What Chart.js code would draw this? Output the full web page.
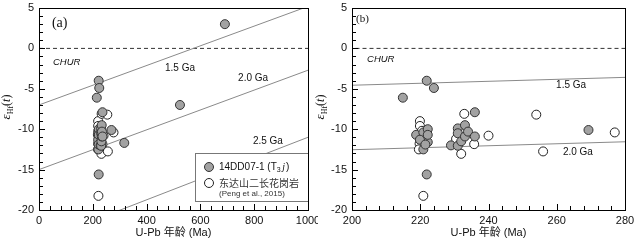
<!DOCTYPE html>
<html>
<head>
<meta charset="utf-8">
<script src="https://cdn.jsdelivr.net/npm/chart.js@4.4.1/dist/chart.umd.min.js"></script>
<style>
  body { margin: 0; background: #fff; }
  #wrap { position: relative; width: 635px; height: 240px; }
  canvas { position: absolute; top: 0; }
  #chartA { left: 0; }
  #chartB { left: 310px; }
</style>
</head>
<body>
<div id="wrap">
  <canvas id="chartA" width="318" height="240"></canvas>
  <canvas id="chartB" width="325" height="240"></canvas>
</div>
<script>
"use strict";
// Zircon U-Pb age (Ma) and eHf(t)

// 14DD07-1 (T3j)
const sampleAges = [214.9, 221.9, 224.0, 236.0, 269.3, 221.9,
    218.8, 220.9, 222.2, 222.2, 220.9, 219.9, 222.2, 221.5,
    229.0, 231.0, 231.0, 231.0, 232.0, 233.1, 233.1, 234.0, 236.0,
    317, 524, 691];
const sampleHf = [-6.1, -4.0, -4.9, -7.9, -10.1, -15.6,
    -10.7, -10.4, -10.0, -11.6, -12.5, -11.3, -10.7, -11.9,
    -12.0, -9.9, -10.5, -12.05, -11.5, -9.5, -10.9, -10.3, -10.9,
    -11.7, -7.0, 3.0];

// Dongdashan monzogranite (Peng et al., 2015)
const pengAges = [219.9, 219.9, 220.5, 219.8, 219.6, 220.9,
    230.5, 232.9, 232.0, 235.8, 240.0, 254.0, 256.0, 277.0];
const pengHf = [-9.0, -9.6, -10.2, -11.8, -12.5, -18.25,
    -11.2, -8.1, -13.05, -11.85, -10.8, -8.2, -12.75, -10.4];

// crustal evolution lines and CHUR
const modelAges = [0, 1000];
const line15 = [-7.0, 5.2];
const line20 = [-15.0, -2.7];
const line25 = [-23.9, -11.0];
const churHf = [0, 0];

// tick labels
const xTicksA = [0, 200, 400, 600, 800, 1000];
const xTicksB = [200, 220, 240, 260, 280];
const yTicks = [-20, -15, -10, -5, 0, 5];

const toPts = (xs, ys) => xs.map((v, i) => ({x: v, y: ys[i]}));

const FONT = '"Liberation Sans", Arial, sans-serif';
const SERIF = '"Liberation Serif", "Times New Roman", serif';

function drawHfTitle(ctx, cx, cy) {
    const parts = [
        {t: 'ε', font: 'italic 13px ' + SERIF, dy: 0},
        {t: 'Hf', font: '8px ' + SERIF, dy: 3},
        {t: '(', font: '12px ' + SERIF, dy: 0},
        {t: 't', font: 'italic 12px ' + SERIF, dy: 0},
        {t: ')', font: '12px ' + SERIF, dy: 0}
    ];
    ctx.save();
    ctx.translate(cx, cy);
    ctx.rotate(-Math.PI / 2);
    let w = 0;
    parts.forEach(p => { ctx.font = p.font; p.w = ctx.measureText(p.t).width; w += p.w; });
    let xx = -w / 2;
    ctx.fillStyle = '#111';
    ctx.textBaseline = 'alphabetic';
    ctx.textAlign = 'left';
    parts.forEach(p => { ctx.font = p.font; ctx.fillText(p.t, xx, p.dy); xx += p.w; });
    ctx.restore();
}

function drawLegend(ctx, area, sets) {
    const w = 113, h = 48;
    const left = area.right - w, top = area.bottom - 9 - h;
    ctx.save();
    ctx.fillStyle = '#fff';
    ctx.fillRect(left, top, w, h);
    ctx.strokeStyle = '#777';
    ctx.lineWidth = 1;
    ctx.strokeRect(Math.round(left) + 0.5, Math.round(top) + 0.5, w, h);

    const cx = left + 14;
    const marks = [top + 14, top + 30];
    sets.forEach((ds, i) => {
        ctx.beginPath();
        ctx.arc(cx, marks[i], 4.5, 0, Math.PI * 2);
        ctx.fillStyle = ds.backgroundColor;
        ctx.fill();
        ctx.strokeStyle = ds.borderColor;
        ctx.stroke();
    });

    ctx.fillStyle = '#111';
    ctx.textBaseline = 'middle';
    ctx.textAlign = 'left';
    let tx = left + 24;
    ctx.font = '10px ' + FONT;
    ctx.fillText('14DD07-1 (T', tx, marks[0]);
    tx += ctx.measureText('14DD07-1 (T').width;
    ctx.font = '7px ' + FONT;
    ctx.fillText('3', tx, marks[0] + 3);
    tx += ctx.measureText('3').width + 1.5;
    ctx.font = 'italic 10px ' + SERIF;
    ctx.fillText('j', tx, marks[0]);
    tx += ctx.measureText('j').width + 1;
    ctx.font = '10px ' + FONT;
    ctx.fillText(')', tx, marks[0]);

    ctx.fillStyle = '#333';
    ctx.font = '10px "Noto Sans CJK SC", sans-serif';
    ctx.fillText('东达山二长花岗岩', left + 24, marks[1]);
    ctx.font = '8px ' + FONT;
    ctx.fillText('(Peng et al., 2015)', left + 24, marks[1] + 11);
    ctx.restore();
}

const panelDecor = {
    id: 'panelDecor',
    afterDatasetsDraw(chart, args, opts) {
        const {ctx, chartArea: a, scales: {x, y}} = chart;
        ctx.save();

        // text notes placed in data space
        opts.notes.forEach(n => {
            ctx.font = n.font;
            ctx.fillStyle = '#111';
            ctx.textAlign = n.align || 'center';
            ctx.textBaseline = 'middle';
            ctx.fillText(n.text, x.getPixelForValue(n.x), y.getPixelForValue(n.y));
        });

        if (opts.legend) {
            drawLegend(ctx, a, [chart.data.datasets[0], chart.data.datasets[1]]);
        }

        // inward ticks
        ctx.strokeStyle = '#000';
        ctx.lineWidth = 1;
        ctx.beginPath();
        const xStep = opts.xMajor / 5;
        for (let i = 0; x.min + i * xStep <= x.max + 1e-9; i++) {
            const px = Math.round(x.getPixelForValue(x.min + i * xStep)) + 0.5;
            const len = i % 5 === 0 ? 6 : 4;
            ctx.moveTo(px, a.bottom);
            ctx.lineTo(px, a.bottom - len);
        }
        for (let i = 0; y.min + i <= y.max + 1e-9; i++) {
            const py = Math.round(y.getPixelForValue(y.min + i)) + 0.5;
            const len = i % 5 === 0 ? 6 : 4;
            ctx.moveTo(a.left, py);
            ctx.lineTo(a.left + len, py);
        }
        ctx.stroke();

        // frame
        ctx.strokeRect(Math.round(a.left) + 0.5, Math.round(a.top) + 0.5,
            Math.round(a.right - a.left), Math.round(a.bottom - a.top));

        drawHfTitle(ctx, opts.titleX, (a.top + a.bottom) / 2 - 2);
        ctx.restore();
    }
};

function makeDatasets() {
    const lineStyle = {showLine: true, pointRadius: 0, borderColor: '#8a8a8a', borderWidth: 1, order: 3};
    return [
        {label: '14DD07-1', data: toPts(sampleAges, sampleHf), backgroundColor: '#a2a2a2',
            borderColor: '#333', borderWidth: 1, pointRadius: 4.5, order: 1},
        {label: 'Peng', data: toPts(pengAges, pengHf), backgroundColor: '#fff',
            borderColor: '#222', borderWidth: 1, pointRadius: 4.5, order: 2},
        Object.assign({data: toPts(modelAges, line15)}, lineStyle),
        Object.assign({data: toPts(modelAges, line20)}, lineStyle),
        Object.assign({data: toPts(modelAges, line25)}, lineStyle),
        {data: toPts(modelAges, churHf), showLine: true, pointRadius: 0, borderColor: '#333',
            borderWidth: 1, borderDash: [4, 3], order: 3}
    ];
}

function makeConfig(xTicks, yWidth, notes, titleX, legend) {
    const tickFont = {family: FONT, size: 11};
    return {
        type: 'scatter',
        data: {datasets: makeDatasets()},
        options: {
            responsive: false,
            animation: false,
            events: [],
            layout: {padding: {top: 8, right: 10, left: 0, bottom: 0}},
            plugins: {
                legend: {display: false},
                tooltip: {enabled: false},
                panelDecor: {notes: notes, titleX: titleX, legend: legend, xMajor: xTicks[1] - xTicks[0]}
            },
            scales: {
                x: {
                    type: 'linear',
                    min: xTicks[0],
                    max: xTicks[xTicks.length - 1],
                    grid: {display: false, drawTicks: false},
                    border: {display: false},
                    ticks: {stepSize: xTicks[1] - xTicks[0], font: tickFont, color: '#111', padding: 4,
                        maxRotation: 0, callback: v => String(v)},
                    title: {display: true, text: 'U-Pb 年龄 (Ma)', font: {family: FONT + ', "Noto Sans CJK SC"', size: 11},
                        color: '#111', padding: {top: 0, bottom: 0}},
                    afterFit(scale) {
                        scale.height = 30;
                        scale.paddingLeft = 0;
                        scale.paddingRight = 0;
                    }
                },
                y: {
                    type: 'linear',
                    min: yTicks[0],
                    max: yTicks[yTicks.length - 1],
                    grid: {display: false, drawTicks: false},
                    border: {display: false},
                    ticks: {stepSize: yTicks[1] - yTicks[0], font: tickFont, color: '#111', padding: 5,
                        callback: v => String(v)},
                    afterFit(scale) {
                        scale.width = yWidth;
                        scale.paddingTop = 0;
                        scale.paddingBottom = 0;
                    }
                }
            }
        },
        plugins: [panelDecor]
    };
}

const notesA = [
    {text: '(a)', x: 48, y: 3.1, font: '14px ' + SERIF, align: 'left'},
    {text: 'CHUR', x: 52, y: -1.7, font: 'italic 9.5px ' + FONT, align: 'left'},
    {text: '1.5 Ga', x: 524, y: -2.4, font: '10px ' + FONT},
    {text: '2.0 Ga', x: 796, y: -3.7, font: '10px ' + FONT},
    {text: '2.5 Ga', x: 851, y: -11.5, font: '10px ' + FONT}
];
const notesB = [
    {text: '(b)', x: 201.2, y: 3.6, font: '11px ' + SERIF, align: 'left'},
    {text: 'CHUR', x: 204.4, y: -1.3, font: 'italic 9.5px ' + FONT, align: 'left'},
    {text: '1.5 Ga', x: 264.2, y: -4.6, font: '10px ' + FONT},
    {text: '2.0 Ga', x: 266.2, y: -12.8, font: '10px ' + FONT}
];

const chartA = new Chart(
    document.getElementById('chartA'),
    makeConfig(xTicksA, 39, notesA, 10, true)
);
const chartB = new Chart(
    document.getElementById('chartB'),
    makeConfig(xTicksB, 42, notesB, 14, false)
);
</script>
</body>
</html>
